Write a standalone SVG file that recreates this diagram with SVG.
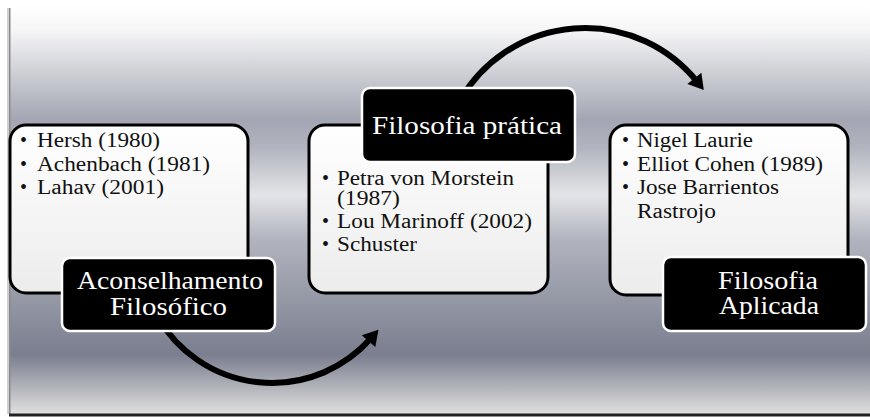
<svg xmlns="http://www.w3.org/2000/svg" width="870" height="417" viewBox="0 0 870 417">
<defs>
<linearGradient id="bg" x1="0" y1="5" x2="0" y2="414" gradientUnits="userSpaceOnUse">
<stop offset="0" stop-color="#ffffff"/>
<stop offset="0.06" stop-color="#f6f6f7"/>
<stop offset="0.28" stop-color="#a3a6b2"/>
<stop offset="0.35" stop-color="#b2b5bf"/>
<stop offset="0.465" stop-color="#e3e4e7"/>
<stop offset="0.57" stop-color="#b2b5bf"/>
<stop offset="0.855" stop-color="#7a7e8e"/>
<stop offset="1" stop-color="#e0e0e0"/>
</linearGradient>
<linearGradient id="boxfill" x1="0" y1="0" x2="0" y2="1">
<stop offset="0" stop-color="#ffffff"/>
<stop offset="1" stop-color="#ececec"/>
</linearGradient>
<marker id="head" viewBox="-1 -10 18 20" refX="4" refY="0" markerWidth="18" markerHeight="20" markerUnits="userSpaceOnUse" orient="auto">
<path d="M0,-9 L15,0 L0,9 z" fill="#000"/>
</marker>
</defs>
<style>
.box{fill:url(#boxfill);stroke:#000;stroke-width:3}
.lab{fill:#000;stroke:#fff;stroke-width:2.5}
.body{font-family:"Liberation Serif","Times New Roman",serif;font-size:20px;fill:#111}
.ltxt{font-family:"Liberation Serif","Times New Roman",serif;font-size:25px;fill:#fff;text-anchor:middle}
.conn{fill:none;stroke:#000;stroke-width:6;marker-end:url(#head)}
</style>
<rect x="0" y="0" width="870" height="417" fill="#ffffff"/>
<rect x="9" y="5" width="861" height="409" fill="url(#bg)"/>
<rect x="7" y="8" width="3" height="406" fill="#cfcfcf"/>
<rect x="9" y="8" width="1.5" height="406" fill="#8a8a8a"/>
<rect x="9" y="413.5" width="861" height="3" fill="#222"/>

<g id="connectors">
<path class="conn" d="M 157.7 317 A 132 132 0 0 0 371.2 338.1"/>
<path class="conn" d="M 460.3 100 A 144 144 0 0 1 696.9 81.4"/>
</g>

<g id="node1">
<rect class="box" x="10" y="125" width="238" height="168" rx="16"/>
<text class="body" x="20" y="147">•</text>
<text class="body" x="37" y="147" textLength="123" lengthAdjust="spacingAndGlyphs">Hersh (1980)</text>
<text class="body" x="20" y="170.5">•</text>
<text class="body" x="37" y="170.5" textLength="173" lengthAdjust="spacingAndGlyphs">Achenbach (1981)</text>
<text class="body" x="20" y="194">•</text>
<text class="body" x="37" y="194" textLength="127" lengthAdjust="spacingAndGlyphs">Lahav (2001)</text>
<rect class="lab" x="62" y="258" width="213" height="73" rx="8"/>
<text class="ltxt" x="170" y="289" textLength="186" lengthAdjust="spacingAndGlyphs">Aconselhamento</text>
<text class="ltxt" x="168.5" y="315" textLength="117" lengthAdjust="spacingAndGlyphs">Filosófico</text>
</g>

<g id="node2">
<rect class="box" x="309" y="125" width="239" height="168" rx="16"/>
<text class="body" x="322" y="185">•</text>
<text class="body" x="337" y="185" textLength="177" lengthAdjust="spacingAndGlyphs">Petra von Morstein</text>
<text class="body" x="337" y="205" textLength="63" lengthAdjust="spacingAndGlyphs">(1987)</text>
<text class="body" x="322" y="228">•</text>
<text class="body" x="337" y="228" textLength="195" lengthAdjust="spacingAndGlyphs">Lou Marinoff (2002)</text>
<text class="body" x="322" y="251">•</text>
<text class="body" x="337" y="251" textLength="80" lengthAdjust="spacingAndGlyphs">Schuster</text>
<rect class="lab" x="362" y="88" width="213" height="74" rx="8"/>
<text class="ltxt" x="467" y="134" textLength="190" lengthAdjust="spacingAndGlyphs">Filosofia prática</text>
</g>

<g id="node3">
<rect class="box" x="610" y="125" width="238" height="170" rx="16"/>
<text class="body" x="622" y="147">•</text>
<text class="body" x="637" y="147" textLength="116" lengthAdjust="spacingAndGlyphs">Nigel Laurie</text>
<text class="body" x="622" y="171">•</text>
<text class="body" x="637" y="171" textLength="186" lengthAdjust="spacingAndGlyphs">Elliot Cohen (1989)</text>
<text class="body" x="622" y="194">•</text>
<text class="body" x="637" y="194" textLength="142" lengthAdjust="spacingAndGlyphs">Jose Barrientos</text>
<text class="body" x="637" y="218" textLength="79" lengthAdjust="spacingAndGlyphs">Rastrojo</text>
<rect class="lab" x="663" y="257" width="203" height="74" rx="8"/>
<text class="ltxt" x="768" y="289" textLength="100" lengthAdjust="spacingAndGlyphs">Filosofia</text>
<text class="ltxt" x="769" y="314" textLength="100" lengthAdjust="spacingAndGlyphs">Aplicada</text>
</g>
</svg>
